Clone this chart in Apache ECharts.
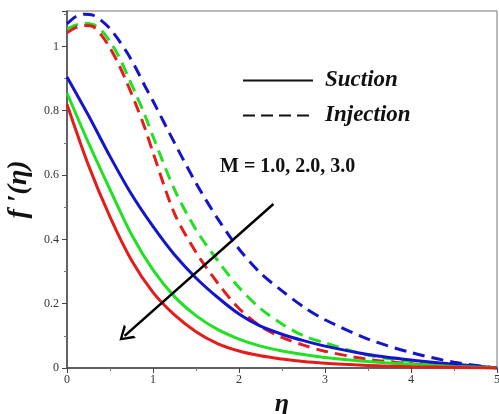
<!DOCTYPE html>
<html>
<head>
<meta charset="utf-8">
<script src="https://cdn.jsdelivr.net/npm/echarts@6/dist/echarts.min.js"></script>
<style>
  html, body { margin: 0; padding: 0; background: #fff; }
  #chart { width: 499px; height: 414px; }
</style>
</head>
<body>
<div id="chart"></div>
<script>
// eta grids
var etaSolid = [0, 0.25, 0.5, 0.75, 1.0, 1.25, 1.5, 1.75, 2.0, 2.25, 2.5, 2.75, 3.0, 3.5, 4.0, 4.5, 5.0];
var etaDashed = [0, 0.1, 0.2, 0.3, 0.4, 0.5, 0.6, 0.7, 0.8, 0.9, 1.0, 1.25, 1.5, 1.75, 2.0, 2.25, 2.5, 2.75, 3.0, 3.5, 4.0, 4.5, 5.0];

// suction (solid) f'(eta)
var sucM1 = [0.905, 0.785, 0.658, 0.54, 0.44, 0.352, 0.28, 0.22, 0.168, 0.13, 0.105, 0.085, 0.068, 0.042, 0.025, 0.012, 0];
var sucM2 = [0.855, 0.70, 0.555, 0.415, 0.305, 0.222, 0.163, 0.12, 0.09, 0.068, 0.053, 0.042, 0.033, 0.02, 0.011, 0.005, 0];
var sucM3 = [0.82, 0.63, 0.47, 0.335, 0.235, 0.165, 0.113, 0.076, 0.053, 0.038, 0.028, 0.02, 0.015, 0.008, 0.004, 0.002, 0];

// injection (dashed) f'(eta)
var injM1 = [1.07, 1.092, 1.10, 1.097, 1.08, 1.055, 1.02, 0.98, 0.933, 0.88, 0.83, 0.70, 0.575, 0.465, 0.37, 0.295, 0.24, 0.19, 0.15, 0.09, 0.048, 0.018, 0];
var injM2 = [1.054, 1.066, 1.072, 1.068, 1.05, 1.015, 0.97, 0.912, 0.852, 0.79, 0.72, 0.555, 0.43, 0.335, 0.25, 0.185, 0.137, 0.1, 0.078, 0.04, 0.02, 0.008, 0];
var injM3 = [1.042, 1.058, 1.065, 1.062, 1.035, 0.995, 0.945, 0.885, 0.82, 0.75, 0.67, 0.48, 0.36, 0.265, 0.185, 0.13, 0.095, 0.071, 0.052, 0.027, 0.013, 0.005, 0];

// arrow: tail and head in (eta, f')
var arrowFrom = [2.4, 0.51];
var arrowTo = [0.67, 0.10];

var colors = { m1: '#1414cc', m2: '#22e022', m3: '#e41c1c' };
var serif = '"Liberation Serif", "DejaVu Serif", serif';

function pairs (xs, ys) {
  return xs.map(function (x, i) { return [x, ys[i]]; });
}

function curve (name, xs, ys, color, dashed) {
  return {
    name: name,
    type: 'line',
    data: pairs(xs, ys),
    showSymbol: false,
    symbol: 'none',
    smooth: 0.3,
    silent: true,
    z: dashed ? 3 : 4,
    lineStyle: {
      color: color,
      width: 3,
      type: dashed ? [12, 7] : 'solid'
    }
  };
}

var chart = echarts.init(document.getElementById('chart'), null, { renderer: 'canvas' });

var option = {
  backgroundColor: '#fff',
  animation: false,
  grid: {
    left: 67,
    right: 2,
    top: 11,
    bottom: 46,
    outerBoundsMode: 'none',
    show: true,
    borderColor: '#777',
    borderWidth: 1
  },
  legend: {
    data: ['Suction', 'Injection'],
    orient: 'vertical',
    left: 237,
    top: 64,
    itemWidth: 70,
    itemHeight: 14,
    itemGap: 12,
    selectedMode: false,
    itemStyle: { opacity: 0 },
    textStyle: {
      fontFamily: serif,
      fontStyle: 'italic',
      fontWeight: 'bold',
      fontSize: 23,
      color: '#111',
      padding: [0, 0, 0, 7]
    }
  },
  xAxis: {
    type: 'value',
    min: 0,
    max: 5,
    interval: 1,
    name: 'η',
    nameLocation: 'middle',
    nameGap: 19,
    nameTextStyle: {
      fontFamily: serif,
      fontStyle: 'italic',
      fontWeight: 'bold',
      fontSize: 26,
      color: '#111'
    },
    axisLine: { lineStyle: { color: '#444', width: 1.5 } },
    axisTick: { show: true, inside: false, length: 5, lineStyle: { color: '#444' } },
    minorTick: { show: true, splitNumber: 2, length: 3, lineStyle: { color: '#777' } },
    splitLine: { show: false },
    axisLabel: {
      fontFamily: serif,
      fontSize: 12,
      color: '#333',
      margin: 6
    }
  },
  yAxis: {
    type: 'value',
    min: 0,
    max: 1.11,
    interval: 0.2,
    name: 'f ′(η)',
    nameLocation: 'middle',
    nameGap: 27,
    nameRotate: 90,
    nameTextStyle: {
      fontFamily: serif,
      fontStyle: 'italic',
      fontWeight: 'bold',
      fontSize: 28,
      color: '#111'
    },
    axisLine: { lineStyle: { color: '#444', width: 1.5 } },
    axisTick: { show: true, inside: false, length: 5, lineStyle: { color: '#444' } },
    minorTick: { show: true, splitNumber: 2, length: 3, lineStyle: { color: '#777' } },
    splitLine: { show: false },
    axisLabel: {
      fontFamily: serif,
      fontSize: 12,
      color: '#333',
      margin: 8,
      showMaxLabel: false
    }
  },
  graphic: [
    {
      type: 'text',
      left: 220,
      top: 157,
      silent: true,
      style: {
        text: 'M = 1.0, 2.0, 3.0',
        fontFamily: serif,
        fontWeight: 'bold',
        fontSize: 20,
        fill: '#111'
      }
    }
  ],
  series: [
    curve('M = 1.0, Injection', etaDashed, injM1, colors.m1, true),
    curve('M = 2.0, Injection', etaDashed, injM2, colors.m2, true),
    curve('M = 3.0, Injection', etaDashed, injM3, colors.m3, true),
    curve('M = 1.0, Suction', etaSolid, sucM1, colors.m1, false),
    curve('M = 2.0, Suction', etaSolid, sucM2, colors.m2, false),
    curve('M = 3.0, Suction', etaSolid, sucM3, colors.m3, false),
    // legend-only series (black keys)
    {
      name: 'Suction', type: 'line', data: [], symbol: 'none',
      itemStyle: { color: '#111' },
      lineStyle: { color: '#111', width: 2.5, type: 'solid' }
    },
    {
      name: 'Injection', type: 'line', data: [], symbol: 'none',
      itemStyle: { color: '#111' },
      lineStyle: { color: '#111', width: 2.5, type: [12, 6] }
    },
    // direction arrow for increasing M
    {
      name: 'arrow', type: 'line', data: [], symbol: 'none', silent: true,
      markLine: {
        silent: true,
        animation: false,
        symbol: ['none', 'path://M0,12 L6,0 L12,12 L10,12 L6,3.5 L2,12 Z'],
        symbolSize: [18, 14],
        label: { show: false },
        lineStyle: { color: '#000', width: 2.5, type: 'solid' },
        data: [[{ coord: arrowFrom }, { coord: arrowTo }]]
      }
    }
  ]
};

chart.setOption(option);
</script>
</body>
</html>
